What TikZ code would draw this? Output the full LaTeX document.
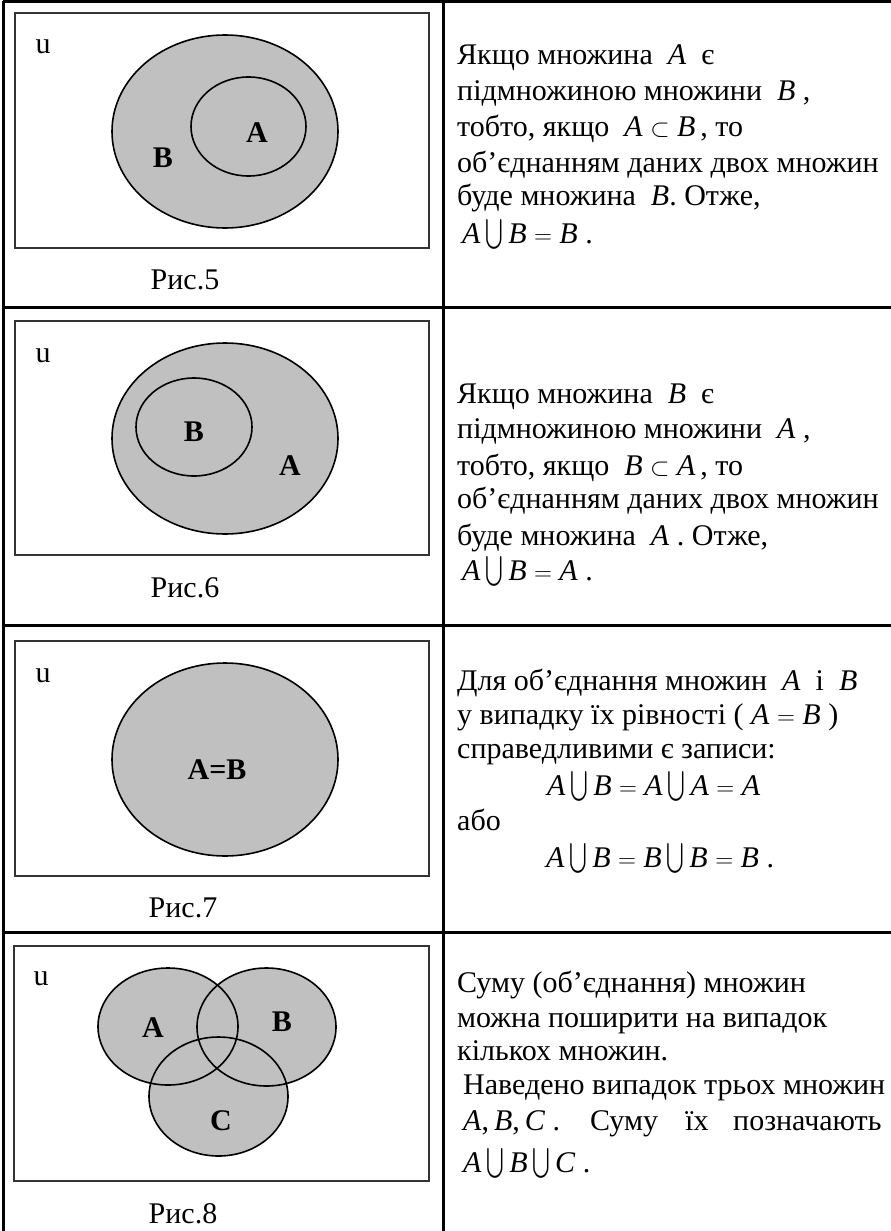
\documentclass[tikz,border=0pt]{standalone}
\usepackage{amsmath}
\usepackage{fontspec}
\setmainfont{Liberation Serif}
\newfontfamily\tnr{Liberation Serif}
\newcommand\mi[1]{\textit{#1}}
\newcommand\Un{\,\smash{\raisebox{1.5pt}{\scalebox{0.85}[1.2]{$\bigcup$}}}\,}
\begin{document}
\begin{tikzpicture}[x=1pt,y=-1pt,
  grid/.style={line width=3pt,black},
  urect/.style={line width=2pt,black!80},
  setfill/.style={fill={rgb,255:red,192;green,192;blue,192}},
  setline/.style={line width=1.6pt,black},
  lbl/.style={anchor=base,inner sep=0pt,font=\tnr\fontsize{30}{36}\selectfont\bfseries},
  plain/.style={anchor=base,inner sep=0pt,font=\tnr\fontsize{30}{36}\selectfont},
  txt/.style={anchor=base west,inner sep=0pt,font=\tnr\fontsize{30}{30}\selectfont}]
\useasboundingbox (0,0) rectangle (891,1231);
% table grid
\coordinate (tl) at (3,1.5);
\coordinate (tr) at (891,1.5);
\coordinate (bl) at (3,1231);
\draw[grid] (tl) -- (tr);
\draw[grid] (tl) -- (bl);
\draw[grid] (443,1.5) -- (443,1231);
\draw[grid] (3,307) -- (891,307);
\draw[grid] (3,625) -- (891,625);
\draw[grid] (3,932) -- (891,932);

% ---------- Fig 5
\draw[urect] (15,13) rectangle (429,248);
\draw[setline,setfill] (225,131.5) ellipse [x radius=113pt, y radius=96.5pt];
\draw[setline] (248.5,126.5) ellipse [x radius=57.5pt, y radius=49.5pt];
\node[plain] (u5) at (43,53) {u};
\node[lbl] (a5) at (257,142) {A};
\node[lbl] (b5) at (163,167) {B};
\node[plain] (c5) at (185,289) {Рис.5};

% ---------- Fig 6
\draw[urect] (15,321) rectangle (429,555);
\draw[setline,setfill] (225,438.5) ellipse [x radius=113pt, y radius=95.5pt];
\draw[setline] (194,427) ellipse [x radius=58pt, y radius=49pt];
\node[plain] (u6) at (43,362) {u};
\node[lbl] (b6) at (194,441) {B};
\node[lbl] (a6) at (290,475) {A};
\node[plain] (c6) at (185,597) {Рис.6};

% ---------- Fig 7
\draw[urect] (15,641) rectangle (429,876);
\draw[setline,setfill] (225,759.5) ellipse [x radius=113pt, y radius=96.5pt];
\node[plain] (u7) at (43,682) {u};
\node[lbl] (ab7) at (217,779) {A=B};
\node[plain] (c7) at (183,917) {Рис.7};

% ---------- Fig 8
\draw[urect] (14,946) rectangle (429,1181);
\fill[setfill] (168,1026.5) ellipse [x radius=70pt, y radius=58.5pt];
\fill[setfill] (266.5,1027) ellipse [x radius=69.5pt, y radius=59pt];
\fill[setfill] (218.5,1096.5) ellipse [x radius=69.5pt, y radius=59.5pt];
\draw[setline] (168,1026.5) ellipse [x radius=70pt, y radius=58.5pt];
\draw[setline] (266.5,1027) ellipse [x radius=69.5pt, y radius=59pt];
\draw[setline] (218.5,1096.5) ellipse [x radius=69.5pt, y radius=59.5pt];
\node[plain] (u8) at (41,985) {u};
\node[lbl] (a8) at (153,1037) {A};
\node[lbl] (b8) at (282,1031) {B};
\node[lbl] (c8) at (221,1130) {C};
\node[plain] (p8) at (183,1223) {Рис.8};

% ---------- Text 1
\node[txt] (t11) at (457,65) {Якщо множина \ \mi{A} \ є};
\node[txt] (t12) at (457,100) {підмножиною множини \ \mi{B} ,};
\node[txt] (t13) at (457,136) {тобто, якщо \ \mi{A} $\subset$ \mi{B}\,, то};
\node[txt] (t14) at (457,172) {об’єднанням даних двох множин};
\node[txt] (t15) at (457,205) {буде множина \ \mi{B}. Отже,};
\node[txt] (t16) at (462,243) {\mi{A}\Un\mi{B} $=$ \mi{B} .};

% ---------- Text 2
\node[txt] (t21) at (457,403) {Якщо множина \ \mi{B} \ є};
\node[txt] (t22) at (457,438) {підмножиною множини \ \mi{A} ,};
\node[txt] (t23) at (457,475) {тобто, якщо \ \mi{B} $\subset$ \mi{A}\,, то};
\node[txt] (t24) at (457,508) {об’єднанням даних двох множин};
\node[txt] (t25) at (457,545) {буде множина \ \mi{A} . Отже,};
\node[txt] (t26) at (462,580) {\mi{A}\Un\mi{B} $=$ \mi{A} .};

% ---------- Text 3
\node[txt] (t31) at (457,690) {Для об’єднання множин \ \mi{A} \ і \ \mi{B}};
\node[txt] (t32) at (457,724) {у випадку їх рівності ( \mi{A} $=$ \mi{B} )};
\node[txt] (t33) at (457,758) {справедливими є записи:};
\node[txt] (t34) at (547,795) {\mi{A}\Un\mi{B} $=$ \mi{A}\Un\mi{A} $=$ \mi{A}};
\node[txt] (t35) at (457,830) {або};
\node[txt] (t36) at (546,867) {\mi{A}\Un\mi{B} $=$ \mi{B}\Un\mi{B} $=$ \mi{B} .};

% ---------- Text 4
\node[txt] (t41) at (457,992) {Суму (об’єднання) множин};
\node[txt] (t42) at (457,1027) {можна поширити на випадок};
\node[txt] (t43) at (457,1060) {кількох множин.};
\node[txt] (t44) at (463,1094) {Наведено випадок трьох множин};
\node[txt] (t45a) at (463,1130) {\mi{A},\,\mi{B},\,\mi{C} .};
\node[txt] (t45b) at (590,1130) {Суму};
\node[txt] (t45c) at (685,1130) {їх};
\node[txt] (t45d) at (733,1130) {позначають};
\node[txt] (t46) at (463,1172) {\mi{A}\Un\mi{B}\Un\mi{C} .};
\end{tikzpicture}
\end{document}
